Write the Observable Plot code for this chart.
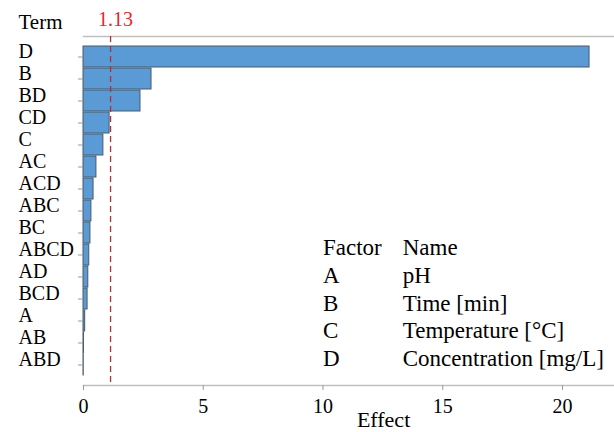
<!DOCTYPE html>
<html><head><meta charset="utf-8">
<script src="https://cdn.jsdelivr.net/npm/d3@7"></script>
<script src="https://cdn.jsdelivr.net/npm/@observablehq/plot@0.6"></script>
<style>
html,body{margin:0;padding:0;background:#fff;overflow:hidden}
#chart svg{display:block;font-family:"Liberation Serif","Times New Roman",serif;overflow:visible}
</style>
</head><body><div id="chart"></div>
<script>
const terms = ["D","B","BD","CD","C","AC","ACD","ABC","BC","ABCD","AD","BCD","A","AB","ABD"];
const effects = [21.13,2.84,2.38,1.09,0.83,0.54,0.42,0.33,0.29,0.24,0.2,0.17,0.07,0.02,0.01];
const refValue = 1.13;
const xTicks = [0,5,10,15,20];
const factors = ["A","B","C","D"];
const factorNames = ["pH","Time [min]","Temperature [°C]","Concentration [mg/L]"];

const data = terms.map((t,i)=>({term:t, effect:effects[i]}));
const legendRows = [{f:"Factor", n:"Name"}].concat(factors.map((f,i)=>({f, n:factorNames[i]})));

const legendMarks = legendRows.flatMap((r,i)=>[
  Plot.text([r], {x:()=>10, text:"f", frameAnchor:"bottom", lineAnchor:"middle", textAnchor:"start", dy:-137.5+i*27.6, fontSize:23, fill:"black"}),
  Plot.text([r], {x:()=>13.33, text:"n", frameAnchor:"bottom", lineAnchor:"middle", textAnchor:"start", dy:-137.5+i*27.6, fontSize:23, fill:"black"})
]);

const chart = Plot.plot({
  width:614, height:432,
  marginLeft:83, marginRight:1, marginTop:36, marginBottom:47,
  x:{domain:[0,22.13]},
  y:{domain:terms, paddingInner:0.05, paddingOuter:0.17},
  style:{fontFamily:'"Liberation Serif","Times New Roman",serif', fontSize:"20px", color:"black", background:"white"},
  marks:[
    Plot.frame({anchor:"top", stroke:"#c0c0c0", strokeWidth:1.5}),
    Plot.frame({anchor:"bottom", stroke:"#c0c0c0", strokeWidth:1.5}),
    Plot.barX(data, {x:"effect", y:"term", fill:"#5b9bd5", stroke:"#4a5868", strokeWidth:1}),
    Plot.ruleX([refValue], {stroke:"#b0303a", strokeDasharray:"6,4", strokeWidth:1.3}),
    Plot.text([refValue], {x:d=>d, text:d=>d.toFixed(2), frameAnchor:"top", lineAnchor:"middle", dy:-17, dx:5, fill:"#e8262b", fontSize:20}),
    Plot.axisX({ticks:xTicks, tickSize:5, tickPadding:8, stroke:"#999", fill:"black", label:null, fontSize:20}),
    Plot.axisY({tickSize:5, tickFormat:()=>"", stroke:"#999", label:null}),
    Plot.text(terms, {y:d=>d, text:d=>d, frameAnchor:"left", lineAnchor:"middle", textAnchor:"start", dx:-65, dy:-5, fontSize:20, fill:"black"}),
    Plot.text(["Term"], {text:d=>d, frameAnchor:"top-left", lineAnchor:"middle", textAnchor:"start", dx:-65, dy:-14, fontSize:21, fill:"black"}),
    Plot.text(["Effect"], {x:()=>12.53, text:d=>d, frameAnchor:"bottom", lineAnchor:"middle", dy:34, fontSize:22, fill:"black"}),
    ...legendMarks
  ]
});
document.getElementById("chart").appendChild(chart);
</script>
</body></html>
